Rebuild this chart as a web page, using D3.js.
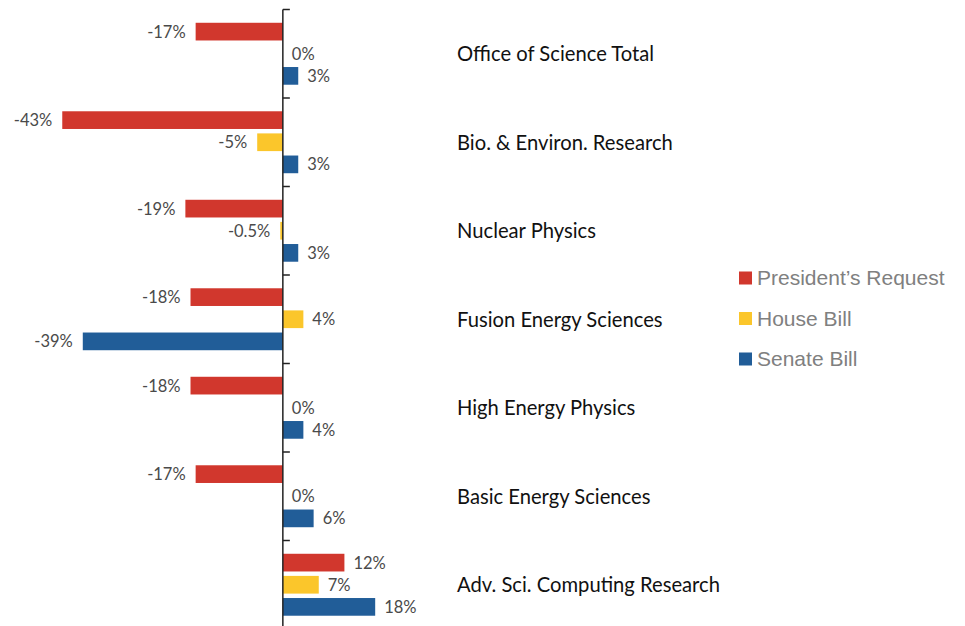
<!DOCTYPE html>
<html>
<head>
<meta charset="utf-8">
<script src="https://cdn.jsdelivr.net/npm/d3@7"></script>
<style>
  body { margin: 0; background: #fff; }
</style>
</head>
<body>
<div id="my_dataviz"></div>
<script>
// chart data
var categories = ["Office of Science Total", "Bio. & Environ. Research", "Nuclear Physics",
    "Fusion Energy Sciences", "High Energy Physics", "Basic Energy Sciences", "Adv. Sci. Computing Research"];
var seriesNames = ["President\u2019s Request", "House Bill", "Senate Bill"];
var presidentRequest = [-17, -43, -19, -18, -18, -17, 12];
var houseBill = [0, -5, -0.5, 4, 0, 0, 7];
var senateBill = [3, 3, 3, -39, 4, 6, 18];
var seriesColors = ["#d1372d", "#fbc62b", "#215d98"];

var width = 965, height = 626;

var svg = d3.select("#my_dataviz")
    .append("svg")
    .attr("width", width)
    .attr("height", height);

var x = d3.scaleLinear()
    .domain([-45, 35])
    .range([52, 462.4]);

var y0 = d3.scaleBand()
    .domain(categories)
    .range([9.5, 9.5 + 88.5 * categories.length])
    .padding(0);

var y1 = d3.scaleBand()
    .domain(seriesNames)
    .range([y0.bandwidth() * 0.15, y0.bandwidth() * 0.85])
    .paddingInner(0.2);

var allSeries = [presidentRequest, houseBill, senateBill];
var rows = [];
categories.forEach(function(c, i) {
    seriesNames.forEach(function(s, j) {
        rows.push({ cat: c, series: s, idx: j, value: allSeries[j][i] });
    });
});

// bars
svg.selectAll("rect.bar")
    .data(rows)
    .enter()
    .append("rect")
    .attr("class", "bar")
    .attr("x", function(d) { return Math.min(x(0), x(d.value)); })
    .attr("y", function(d) { return y0(d.cat) + y1(d.series); })
    .attr("width", function(d) { return Math.abs(x(d.value) - x(0)); })
    .attr("height", y1.bandwidth())
    .attr("fill", function(d) { return seriesColors[d.idx]; });

// value labels
svg.selectAll("text.val")
    .data(rows)
    .enter()
    .append("text")
    .attr("class", "val")
    .attr("x", function(d) { return d.value < 0 ? x(d.value) - 10 : x(d.value) + 9; })
    .attr("y", function(d) { return y0(d.cat) + y1(d.series) + y1.bandwidth() / 2; })
    .attr("dy", "0.36em")
    .attr("text-anchor", function(d) { return d.value < 0 ? "end" : "start"; })
    .style("font-family", "Lato, 'Open Sans', sans-serif")
    .style("font-size", "16.5px")
    .style("fill", "#4a4a4a")
    .text(function(d) { return d.value + "%"; });

// vertical axis at zero with ticks between categories
var axis = svg.append("g");
axis.append("line")
    .attr("x1", x(0)).attr("x2", x(0))
    .attr("y1", y0.range()[0]).attr("y2", y0.range()[1])
    .attr("stroke", "#222")
    .attr("stroke-width", 1.5);
axis.selectAll("line.tick")
    .data(categories)
    .enter()
    .append("line")
    .attr("class", "tick")
    .attr("x1", x(0)).attr("x2", x(0) + 7)
    .attr("y1", function(d) { return y0(d); })
    .attr("y2", function(d) { return y0(d); })
    .attr("stroke", "#222")
    .attr("stroke-width", 1.5);

// category labels
svg.selectAll("text.cat")
    .data(categories)
    .enter()
    .append("text")
    .attr("class", "cat")
    .attr("x", 457)
    .attr("y", function(d) { return y0(d) + y0.bandwidth() / 2; })
    .attr("dy", "0.36em")
    .style("font-family", "Lato, sans-serif")
    .style("font-size", "20.2px")
    .style("fill", "#111")
    .text(function(d) { return d; });

// legend
var legend = svg.selectAll("g.legend")
    .data(seriesNames)
    .enter()
    .append("g")
    .attr("class", "legend")
    .attr("transform", function(d, i) { return "translate(739," + (278 + i * 40.5) + ")"; });
legend.append("rect")
    .attr("x", 0).attr("y", -6.5)
    .attr("width", 13).attr("height", 13)
    .attr("fill", function(d, i) { return seriesColors[i]; });
legend.append("text")
    .attr("x", 18)
    .attr("dy", "0.35em")
    .style("font-family", "'Liberation Sans', Arial, sans-serif")
    .style("font-size", "21px")
    .style("fill", "#808080")
    .text(function(d) { return d; });
</script>
</body>
</html>
